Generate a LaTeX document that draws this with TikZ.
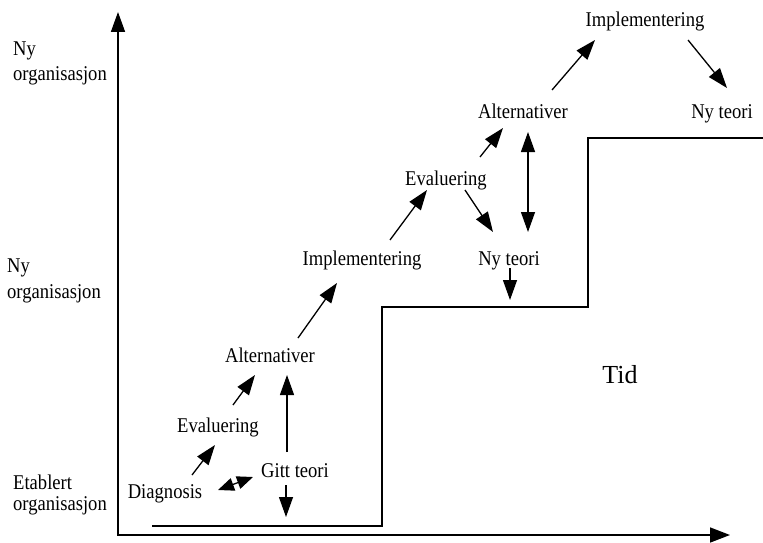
\documentclass[tikz,border=0pt]{standalone}
\usepackage{fontspec}
\setmainfont{Liberation Serif}
\newfontfamily\lblfont[FakeStretch=0.885]{Liberation Serif}
\usetikzlibrary{arrows.meta,calc}
\begin{document}
\begin{tikzpicture}[x=1pt,y=-1pt,
  lbl/.style={font=\lblfont\fontsize{21}{25}\selectfont, inner sep=0pt, anchor=base},
  side/.style={lbl, anchor=base west},
  arr/.style={line width=1.3pt, -{Triangle[length=20pt,width=14pt]}},
  darr/.style={line width=1.3pt, {Triangle[length=20pt,width=14pt]}-{Triangle[length=20pt,width=14pt]}},
  sdarr/.style={line width=1.3pt, {Triangle[length=16pt,width=13pt]}-{Triangle[length=16pt,width=13pt]}},
  axis/.style={line width=1.6pt, {Triangle[length=20pt,width=14pt]}-{Triangle[length=20pt,width=15pt]}},
  level/.style={line width=2.2pt}]
\useasboundingbox (0,0) rectangle (763,543);

% axes
\coordinate (O) at (118,535);
\coordinate (ytop) at (118,12);
\coordinate (xend) at (730,535);
\draw[axis] (ytop) -- (O) -- (xend);

% level line
\draw[level] (152,526) -- (382,526) -- (382,307) -- (588,307) -- (588,138) -- (763,138);

% side labels
\node[side] (nyA) at (13,56) {Ny};
\node[side] (nyB) at (13,81) {organisasjon};
\node[side] (nyC) at (7,272) {Ny};
\node[side] (nyD) at (7,298) {organisasjon};
\node[side] (etA) at (13,489) {Etablert};
\node[side] (etB) at (13,510) {organisasjon};

% process labels
\node[lbl] (diag) at (165,498) {Diagnosis};
\node[lbl] (gitt) at (295,477) {Gitt teori};
\node[lbl] (ev1)  at (218,432) {Evaluering};
\node[lbl] (alt1) at (270,362) {Alternativer};
\node[lbl] (imp1) at (362,265) {Implementering};
\node[lbl] (ev2)  at (446,185) {Evaluering};
\node[lbl] (ny1)  at (509,265) {Ny teori};
\node[lbl] (alt2) at (523,118) {Alternativer};
\node[lbl] (imp2) at (645,27) {Implementering};
\node[lbl] (ny2)  at (722,118) {Ny teori};
\node[font=\fontsize{26}{30}\selectfont, inner sep=0pt, anchor=base] (tid) at (620,383) {Tid};

% connectors
\coordinate (gdown) at (286,517);
\coordinate (ndown) at (510,300);
\draw[arr] ($(diag.base)+(27,-23)$) -- ($(ev1.base)+(-3,13)$);
\draw[arr] ($(ev1.base)+(15,-27)$) -- ($(alt1.base)+(-15,13)$);
\draw[sdarr] ($(diag.base)+(53,-8)$) -- ($(gitt.base)+(-42,0)$);
\draw[arr] ($(gitt.base)+(-8,-25)$) -- ($(alt1.base)+(17,13)$);
\draw[arr] ($(gitt.base)+(-9,8)$) -- (gdown);
\draw[arr] ($(alt1.base)+(28,-24)$) -- ($(imp1.base)+(-25,18)$);
\draw[arr] ($(imp1.base)+(28,-25)$) -- ($(ev2.base)+(-19,5)$);
\draw[arr] ($(ev2.base)+(19,5)$) -- ($(ny1.base)+(-16,-33)$);
\draw[darr] ($(alt2.base)+(5,14)$) -- ($(ny1.base)+(19,-33)$);
\draw[arr] ($(ny1.base)+(1,3)$) -- (ndown);
\draw[arr] ($(ev2.base)+(34,-28)$) -- ($(alt2.base)+(-20,10)$);
\draw[arr] ($(alt2.base)+(29,-28)$) -- ($(imp2.base)+(-50,13)$);
\draw[arr] ($(imp2.base)+(43,13)$) -- ($(ny2.base)+(5,-30)$);
\end{tikzpicture}
\end{document}
